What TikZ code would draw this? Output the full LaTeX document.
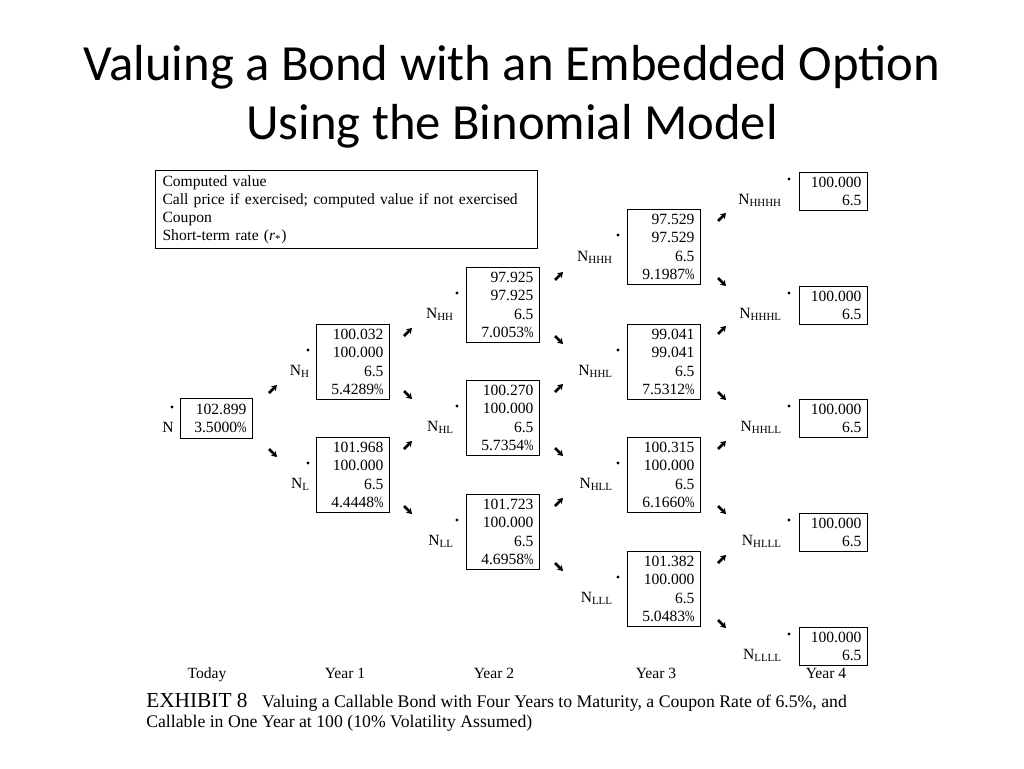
\documentclass[tikz,border=0pt]{standalone}
\usepackage{fontspec}
\usepackage{graphicx}
\setmainfont{Liberation Serif}
\newfontfamily\titlefont{Carlito}
\usetikzlibrary{arrows.meta}

\newcommand{\pc}{\scalebox{0.72}[1]{\%}}

\tikzset{
	valbox/.style={draw,line width=0.8pt,anchor=north west,align=right,inner xsep=4.5pt,inner ysep=0pt,
		text width=45.75pt,minimum height=56pt,font=\fontsize{11.7}{13.95}\selectfont},
	endbox/.style={valbox,text width=42pt,minimum height=28.5pt},
	rootbox/.style={valbox,text width=45pt,minimum height=30pt},
	nlabel/.style={anchor=base east,inner sep=0pt,font=\fontsize{11.7}{14}\selectfont},
	yearlabel/.style={anchor=base,inner sep=0pt,font=\fontsize{11.7}{14}\selectfont},
	stub/.style={line width=2pt,-{Stealth[length=4pt,width=5pt]}},
}

\begin{document}
\begin{tikzpicture}[x=0.75pt,y=-0.75pt]
		\useasboundingbox[fill=white] (0,0) rectangle (1024,768);
		
		\node[anchor=north,align=center,inner sep=0pt,font=\titlefont\fontsize{38}{44.25}\selectfont] (title) at (512,45)
			{Valuing a Bond with an Embedded Option\\Using the Binomial Model};
		
		\node[draw,line width=0.8pt,anchor=north west,align=left,inner xsep=5.25pt,inner ysep=0pt,
			minimum width=286.5pt,minimum height=58.5pt,text width=276pt,font=\fontsize{11.7}{13.5}\selectfont] (legend) at (155,170)
			{Computed value\\Call price if exercised; computed value if not exercised\\Coupon\\Short-term rate (\textit{r}\textsubscript{*})};
		
		% today
		\node[rootbox] (n) at (180,398) {102.899\\3.5000\pc};
		\fill (172,407) circle (1.2pt);
		\node[nlabel] (ln) at (174,432) {N};
		
		% year 1
		\node[valbox] (nH) at (316,324) {100.032\\100.000\\6.5\\5.4289\pc};
		\node[valbox] (nL) at (316,437) {101.968\\100.000\\6.5\\4.4448\pc};
		\fill (308,350) circle (1.2pt);
		\fill (308,463) circle (1.2pt);
		\node[nlabel] (lH) at (310,375) {N\textsubscript{H}};
		\node[nlabel] (lL) at (310,488) {N\textsubscript{L}};
		
		% year 2
		\node[valbox] (nHH) at (466,267) {97.925\\97.925\\6.5\\7.0053\pc};
		\node[valbox] (nHL) at (466,380) {100.270\\100.000\\6.5\\5.7354\pc};
		\node[valbox] (nLL) at (466,494) {101.723\\100.000\\6.5\\4.6958\pc};
		\fill (457,293) circle (1.2pt);
		\fill (457,406) circle (1.2pt);
		\fill (457,520) circle (1.2pt);
		\node[nlabel] (lHH) at (454,318) {N\textsubscript{HH}};
		\node[nlabel] (lHL) at (454,431) {N\textsubscript{HL}};
		\node[nlabel] (lLL) at (454,545) {N\textsubscript{LL}};
		
		% year 3
		\node[valbox] (nHHH) at (627,209) {97.529\\97.529\\6.5\\9.1987\pc};
		\node[valbox] (nHHL) at (627,324) {99.041\\99.041\\6.5\\7.5312\pc};
		\node[valbox] (nHLL) at (627,437) {100.315\\100.000\\6.5\\6.1660\pc};
		\node[valbox] (nLLL) at (627,551) {101.382\\100.000\\6.5\\5.0483\pc};
		\fill (618,235) circle (1.2pt);
		\fill (618,350) circle (1.2pt);
		\fill (618,463) circle (1.2pt);
		\fill (618,577) circle (1.2pt);
		\node[nlabel] (lHHH) at (613,261) {N\textsubscript{HHH}};
		\node[nlabel] (lHHL) at (613,375) {N\textsubscript{HHL}};
		\node[nlabel] (lHLL) at (613,488) {N\textsubscript{HLL}};
		\node[nlabel] (lLLL) at (613,602) {N\textsubscript{LLL}};
		
		% year 4
		\node[endbox] (nHHHH) at (799,172) {100.000\\6.5};
		\node[endbox] (nHHHL) at (799,286) {100.000\\6.5};
		\node[endbox] (nHHLL) at (799,399) {100.000\\6.5};
		\node[endbox] (nHLLL) at (799,513) {100.000\\6.5};
		\node[endbox] (nLLLL) at (799,627) {100.000\\6.5};
		\fill (789,179) circle (1.2pt);
		\fill (789,293) circle (1.2pt);
		\fill (789,406) circle (1.2pt);
		\fill (789,520) circle (1.2pt);
		\fill (789,634) circle (1.2pt);
		\node[nlabel] (lHHHH) at (782,204) {N\textsubscript{HHHH}};
		\node[nlabel] (lHHHL) at (782,318) {N\textsubscript{HHHL}};
		\node[nlabel] (lHHLL) at (782,431) {N\textsubscript{HHLL}};
		\node[nlabel] (lHLLL) at (782,545) {N\textsubscript{HLLL}};
		\node[nlabel] (lLLLL) at (782,659) {N\textsubscript{LLLL}};
		
		% little arrows between the steps
		\draw[stub] (269,393) -- (277,385);
		\draw[stub] (269,449) -- (277,457);
		
		\draw[stub] (404,336) -- (412,328);
		\draw[stub] (404,391) -- (412,399);
		\draw[stub] (404,449) -- (412,441);
		\draw[stub] (404,506) -- (412,514);
		
		\draw[stub] (555,280) -- (563,272);
		\draw[stub] (555,336) -- (563,344);
		\draw[stub] (555,392) -- (563,384);
		\draw[stub] (555,448) -- (563,456);
		\draw[stub] (555,506) -- (563,498);
		\draw[stub] (555,563) -- (563,571);
		
		\draw[stub] (718,221) -- (726,213);
		\draw[stub] (718,278) -- (726,286);
		\draw[stub] (718,334) -- (726,326);
		\draw[stub] (718,392) -- (726,400);
		\draw[stub] (718,449) -- (726,441);
		\draw[stub] (718,506) -- (726,514);
		\draw[stub] (718,563) -- (726,555);
		\draw[stub] (718,620) -- (726,628);
		
		% years
		\node[yearlabel] (y0) at (207,678) {Today};
		\node[yearlabel] (y1) at (345,678) {Year 1};
		\node[yearlabel] (y2) at (494,678) {Year 2};
		\node[yearlabel] (y3) at (656,678) {Year 3};
		\node[yearlabel] (y4) at (826,678) {Year 4};
		
		\node[anchor=base west,align=left,inner sep=0pt,font=\fontsize{13.3}{15}\selectfont] (caption) at (146,727)
			{{\fontsize{16}{15}\selectfont EXHIBIT 8}\hspace{11pt}Valuing a Callable Bond with Four Years to Maturity, a Coupon Rate of 6.5\%, and\\
			Callable in One Year at 100 (10\% Volatility Assumed)};

	\end{tikzpicture}
\end{document}
